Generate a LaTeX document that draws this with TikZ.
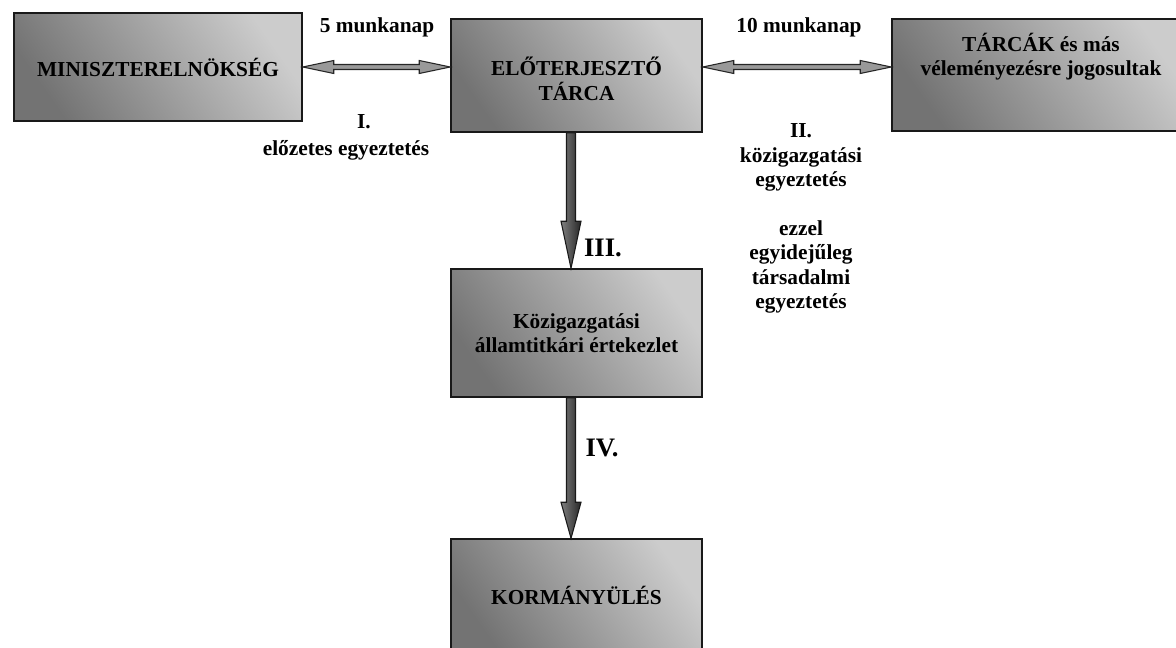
\documentclass[tikz,border=0pt]{standalone}
\usepackage{fontspec}
\setmainfont{Liberation Serif}
\usetikzlibrary{calc}

% block arrows drawn as outlined polygons between two points
\newcommand{\dblarrow}[2]{%
  \draw[dblarrow] (#1) -- ($(#1)+(31,-6.5)$) -- ($(#1)+(31,-2.5)$)
    -- ($(#2)+(-31,-2.5)$) -- ($(#2)+(-31,-6.5)$) -- (#2)
    -- ($(#2)+(-31,6.5)$) -- ($(#2)+(-31,2.5)$)
    -- ($(#1)+(31,2.5)$) -- ($(#1)+(31,6.5)$) -- cycle;}
\newcommand{\vblockarrow}[3]{%
  \draw[blockarrow] ($(#1)+(-4.5,0)$) -- ($(#2)+(-4.5,-#3)$) -- ($(#2)+(-10,-#3)$)
    -- (#2) -- ($(#2)+(10,-#3)$) -- ($(#2)+(4.5,-#3)$) -- ($(#1)+(4.5,0)$) -- cycle;}

\begin{document}
\begin{tikzpicture}[
    x=0.75pt, y=-0.75pt,
    every node/.style={font=\fontsize{16}{18.4}\selectfont\bfseries},
    box/.style={draw=black!90, line width=1.1pt, align=center,
      top color=black!20, middle color=white, bottom color=black!55, shading angle=-55},
    note/.style={align=center},
    stage/.style={font=\fontsize{20}{24}\selectfont\bfseries},
    dblarrow/.style={draw=black!85, line width=0.8pt, fill=black!40},
    blockarrow/.style={draw=black!90, line width=0.8pt, left color=black!50, right color=black!85},
]
\useasboundingbox (0,0) rectangle (1176,648);
\clip (0,0) rectangle (1176,648);

% Boxes
\node[box,minimum width=216pt,minimum height=81pt] (mini) at (158,67) {MINISZTERELNÖKSÉG};
\node[box,minimum width=188.25pt,minimum height=84.75pt,text height=37pt] (elo) at (576.5,75.5)
  {ELŐTERJESZTŐ\\TÁRCA};
\node[box,minimum width=223.5pt,minimum height=84pt,text depth=31pt] (tarcak) at (1041,75)
  {TÁRCÁK és más\\véleményezésre jogosultak};
\node[box,minimum width=188.25pt,minimum height=96pt] (koz) at (576.5,333)
  {Közigazgatási\\államtitkári értekezlet};
\node[box,minimum width=188.25pt,minimum height=84pt] (korm) at (576.5,595) {KORMÁNYÜLÉS};

% Arrow ends
\coordinate (elo-l) at (elo.west |- mini.east);
\coordinate (elo-r) at (elo.east |- mini.east);
\coordinate (tarcak-l) at (tarcak.west |- mini.east);
\coordinate (elo-b) at ($(elo.south)+(-5.5,0)$);
\coordinate (koz-t) at ($(koz.north)+(-5.5,0)$);
\coordinate (koz-b) at ($(koz.south)+(-5.5,0)$);
\coordinate (korm-t) at ($(korm.north)+(-5.5,0)$);

% Connectors
\dblarrow{mini.east}{elo-l}
\dblarrow{elo-r}{tarcak-l}
\vblockarrow{elo-b}{koz-t}{47}
\vblockarrow{koz-b}{korm-t}{36}

% Labels
\node (munka5) at (377,27) {5 munkanap};
\node (munka10) at (799,27) {10 munkanap};
\node (stepI) at (364,122) {I.};
\node[note] (elozetes) at (346,150) {előzetes egyeztetés};
\node[note] (kozig) at (801,157.5) {II.\\közigazgatási\\egyeztetés};
\node[note] (tars) at (801,267) {ezzel\\egyidejűleg\\társadalmi\\egyeztetés};
\node[stage] (stepIII) at (603,248) {III.};
\node[stage] (stepIV) at (602,448) {IV.};
\end{tikzpicture}
\end{document}
